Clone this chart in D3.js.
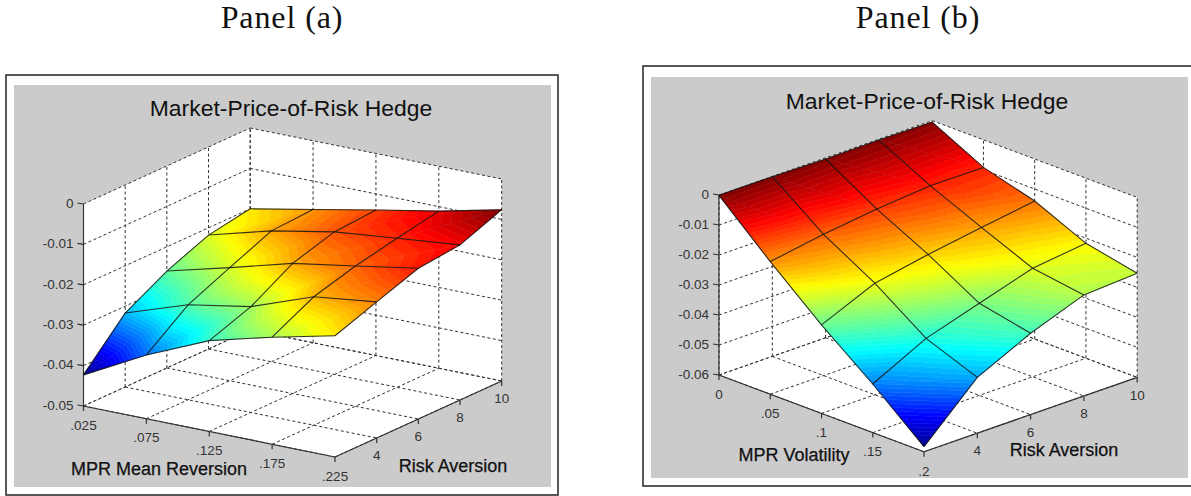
<!DOCTYPE html>
<html>
<head>
<meta charset="utf-8">
<script src="https://cdn.jsdelivr.net/npm/d3@7"></script>
<style>
  html, body { margin: 0; padding: 0; background: #fff; overflow: hidden; }
  svg { display: block; }
  text { font-family: "Liberation Sans", Arial, sans-serif; }
</style>
</head>
<body>
<div id="my_dataviz"></div>
<script>
(function() {

const width = 1191,
height = 496;

// values, rows = x tick, columns = risk aversion tick
const riskAversion = [2, 4, 6, 8, 10];
const riskLabels = ["", "4", "6", "8", "10"];

const meanReversion = [.025, .075, .125, .175, .225];
const meanReversionLabels = [".025", ".075", ".125", ".175", ".225"];
const zTicksA = [0, -0.01, -0.02, -0.03, -0.04, -0.05];
const zLabelsA = ["0", "-0.01", "-0.02", "-0.03", "-0.04", "-0.05"];
const hedgeA = [
  [-.0423, -.0317, -.0260, -.0218, -.0200],
  [-.0342, -.0265, -.0220, -.0176, -.0170],
  [-.0275, -.0238, -.0178, -.0147, -.0140],
  [-.0235, -.0182, -.0153, -.0131, -.0111],
  [-.0200, -.0163, -.0127, -.0116, -.0076]
];

const volatility = [0, .05, .1, .15, .2];
const volatilityLabels = ["0", ".05", ".1", ".15", ".2"];
const zTicksB = [0, -0.01, -0.02, -0.03, -0.04, -0.05, -0.06];
const zLabelsB = ["0", "-0.01", "-0.02", "-0.03", "-0.04", "-0.05", "-0.06"];
const hedgeB = [
  [-.0001, -.0001, -.0004, -.0003, -.0005],
  [-.0158, -.0129, -.0107, -.0091, -.0092],
  [-.0305, -.0228, -.0194, -.0166, -.0140],
  [-.0438, -.0348, -.0293, -.0238, -.0217],
  [-.0583, -.0414, -.0329, -.0263, -.0253]
];

const svg = d3.select("#my_dataviz")
  .append("svg")
  .attr("width", width)
  .attr("height", height)
  .attr("viewBox", [0, 0, width, height]);

// matlab jet
const jet = d3.scaleLinear()
  .domain([0, .125, .375, .625, .875, 1])
  .range(["#00008f", "#0000ff", "#00ffff", "#ffff00", "#ff0000", "#800000"])
  .clamp(true);
const levels = 64;

// keep the part of a polygon on one side of a level, v = {a, b, c}
function clipLevel(poly, level, keepAbove) {
  const out = [];
  const inside = v => keepAbove ? v.c >= level : v.c <= level;
  poly.forEach((v, k) => {
    const w = poly[(k + 1) % poly.length];
    if (inside(v)) out.push(v);
    if (inside(v) !== inside(w)) {
      const f = (level - v.c) / (w.c - v.c);
      out.push({ a: v.a + (w.a - v.a) * f, b: v.b + (w.b - v.b) * f, c: level });
    }
  });
  return out;
}

function drawPanel(cfg) {
  const g = svg.append("g");
  const xs = cfg.x, ys = riskAversion, zs = cfg.zTicks, z = cfg.z;

  // oblique box: screen position is a sum of three linear scales
  const xH = d3.scaleLinear().domain(d3.extent(xs)).range([0, cfg.xRun[0]]);
  const xV = d3.scaleLinear().domain(d3.extent(xs)).range([0, cfg.xRun[1]]);
  const yH = d3.scaleLinear().domain(d3.extent(ys)).range([0, cfg.yRun[0]]);
  const yV = d3.scaleLinear().domain(d3.extent(ys)).range([0, cfg.yRun[1]]);
  const zV = d3.scaleLinear().domain(d3.extent(zs)).range([0, -cfg.zRun]);
  const P = (a, b, c) => [
    cfg.origin[0] + xH(a) + yH(b),
    cfg.origin[1] + xV(a) + yV(b) + zV(c)
  ];

  const line = d3.line();
  const x0 = xs[0], x1 = xs[xs.length - 1];
  const y0 = ys[0], y1 = ys[ys.length - 1];
  const zMin = d3.min(zs), zMax = d3.max(zs);

  // figure frame and gray background
  g.append("rect")
    .attr("x", cfg.frame[0]).attr("y", cfg.frame[1])
    .attr("width", cfg.frame[2]).attr("height", cfg.frame[3])
    .attr("fill", "#fff").attr("stroke", "#222").attr("stroke-width", 1.5);
  g.append("rect")
    .attr("x", cfg.bg[0]).attr("y", cfg.bg[1])
    .attr("width", cfg.bg[2]).attr("height", cfg.bg[3])
    .attr("fill", "#cbcbcb");

  // walls and floor
  const planes = [
    [P(x0, y0, zMin), P(x0, y1, zMin), P(x0, y1, zMax), P(x0, y0, zMax)],
    [P(x0, y1, zMin), P(x1, y1, zMin), P(x1, y1, zMax), P(x0, y1, zMax)],
    [P(x0, y0, zMin), P(x1, y0, zMin), P(x1, y1, zMin), P(x0, y1, zMin)]
  ];
  g.append("g").selectAll("path")
    .data(planes)
    .join("path")
    .attr("d", d => line(d) + "Z")
    .attr("fill", "#fff");

  // dashed grid
  const grid = [];
  for (let a of xs) {
    grid.push([P(a, y0, zMin), P(a, y1, zMin)]);
    grid.push([P(a, y1, zMin), P(a, y1, zMax)]);
  }
  for (let b of ys) {
    grid.push([P(x0, b, zMin), P(x1, b, zMin)]);
    grid.push([P(x0, b, zMin), P(x0, b, zMax)]);
  }
  for (let c of zs) {
    grid.push([P(x0, y0, c), P(x0, y1, c)]);
    grid.push([P(x0, y1, c), P(x1, y1, c)]);
  }
  g.append("g").selectAll("path")
    .data(grid)
    .join("path")
    .attr("d", line)
    .attr("fill", "none")
    .attr("stroke", "#333")
    .attr("stroke-width", 1)
    .attr("stroke-dasharray", "3 2.5");

  // axis lines and ticks
  const axisLines = [
    [P(x0, y0, zMin), P(x0, y0, zMax)],
    [P(x0, y0, zMin), P(x1, y0, zMin)],
    [P(x1, y0, zMin), P(x1, y1, zMin)]
  ];
  for (let c of zs) {
    const p = P(x0, y0, c);
    axisLines.push([[p[0] - 6, p[1] - 1], p]);
  }
  xs.forEach(a => {
    const p = P(a, y0, zMin);
    axisLines.push([p, [p[0], p[1] + 5]]);
  });
  ys.slice(1).forEach(b => {
    const p = P(x1, b, zMin);
    axisLines.push([p, [p[0], p[1] + 5]]);
  });
  g.append("g").selectAll("path")
    .data(axisLines)
    .join("path")
    .attr("d", line)
    .attr("fill", "none")
    .attr("stroke", "#333")
    .attr("stroke-width", 1.2);

  // surface, two triangles per grid cell, each cut into flat colour bands
  const zRange = d3.extent(z.flat());
  const bandOf = d3.scaleLinear().domain(zRange).range([0, levels]);
  const pieces = [];
  const node = (i, j) => ({ a: xs[i], b: ys[j], c: z[i][j] });
  const addTriangle = tri => {
    const lo = Math.max(0, Math.floor(bandOf(d3.min(tri, v => v.c))));
    const hi = Math.min(levels - 1, Math.floor(bandOf(d3.max(tri, v => v.c))));
    for (let k = lo; k <= hi; k++) {
      let poly = clipLevel(tri, bandOf.invert(k), true);
      if (poly.length) poly = clipLevel(poly, bandOf.invert(k + 1), false);
      if (poly.length > 2) {
        pieces.push({ pts: poly.map(v => P(v.a, v.b, v.c)), t: (k + .5) / levels });
      }
    }
  };
  for (let j = ys.length - 2; j >= 0; j--) {
    for (let i = 0; i < xs.length - 1; i++) {
      addTriangle([node(i, j), node(i + 1, j), node(i + 1, j + 1)]);
      addTriangle([node(i, j), node(i + 1, j + 1), node(i, j + 1)]);
    }
  }
  g.append("g").selectAll("path")
    .data(pieces)
    .join("path")
    .attr("d", d => line(d.pts) + "Z")
    .attr("fill", d => jet(d.t))
    .attr("stroke", d => jet(d.t))
    .attr("stroke-width", .5);

  // mesh
  const mesh = [];
  xs.forEach((a, i) => mesh.push(ys.map((b, j) => P(a, b, z[i][j]))));
  ys.forEach((b, j) => mesh.push(xs.map((a, i) => P(a, b, z[i][j]))));
  g.append("g").selectAll("path")
    .data(mesh)
    .join("path")
    .attr("d", line)
    .attr("fill", "none")
    .attr("stroke", "#141414")
    .attr("stroke-opacity", .85)
    .attr("stroke-width", 1.1);

  // tick labels
  g.append("g").selectAll("text")
    .data(zs)
    .join("text")
    .attr("x", cfg.origin[0] - 10)
    .attr("y", d => P(x0, y0, d)[1] - 1)
    .attr("dy", ".35em")
    .attr("text-anchor", "end")
    .attr("font-size", 13.5)
    .attr("fill", "#333")
    .text((d, i) => cfg.zLabels[i]);
  g.append("g").selectAll("text")
    .data(xs)
    .join("text")
    .attr("x", d => P(d, y0, zMin)[0])
    .attr("y", d => P(d, y0, zMin)[1] + 19)
    .attr("dy", ".35em")
    .attr("text-anchor", "middle")
    .attr("font-size", 13.5)
    .attr("fill", "#333")
    .text((d, i) => cfg.xLabels[i]);
  g.append("g").selectAll("text")
    .data(ys)
    .join("text")
    .attr("x", d => P(x1, d, zMin)[0])
    .attr("y", d => P(x1, d, zMin)[1] + 17.5)
    .attr("dy", ".35em")
    .attr("text-anchor", "middle")
    .attr("font-size", 13.5)
    .attr("fill", "#333")
    .text((d, i) => riskLabels[i]);

  // titles
  g.append("text")
    .attr("x", cfg.title[0]).attr("y", cfg.title[1])
    .attr("text-anchor", "middle")
    .attr("font-size", 22.9)
    .attr("fill", "#111")
    .text("Market-Price-of-Risk Hedge");
  g.append("text")
    .attr("x", cfg.xTitle[0]).attr("y", cfg.xTitle[1])
    .attr("text-anchor", "middle")
    .attr("font-size", 18)
    .attr("fill", "#111")
    .attr("stroke", "#111").attr("stroke-width", .25)
    .text(cfg.xName);
  g.append("text")
    .attr("x", cfg.yTitle[0]).attr("y", cfg.yTitle[1])
    .attr("text-anchor", "middle")
    .attr("font-size", 18)
    .attr("fill", "#111")
    .attr("stroke", "#111").attr("stroke-width", .25)
    .text("Risk Aversion");
  svg.append("text")
    .attr("x", cfg.panel[0]).attr("y", cfg.panel[1])
    .attr("text-anchor", "middle")
    .style("font-family", "'Liberation Serif', serif")
    .attr("font-size", 32)
    .attr("letter-spacing", .9)
    .attr("fill", "#111")
    .text(cfg.panelName);
}

drawPanel({
  x: meanReversion, xLabels: meanReversionLabels, zTicks: zTicksA, zLabels: zLabelsA, z: hedgeA,
  origin: [83.5, 406], xRun: [251.5, 51], yRun: [166.7, -76], zRun: 202,
  frame: [6, 75, 552, 420], bg: [14, 85, 537, 402],
  title: [291, 116], xTitle: [159, 475], yTitle: [453, 471.5],
  xName: "MPR Mean Reversion", panel: [282, 28], panelName: "Panel (a)"
});

drawPanel({
  x: volatility, xLabels: volatilityLabels, zTicks: zTicksB, zLabels: zLabelsB, z: hedgeB,
  origin: [719, 375], xRun: [205, 76.8], yRun: [213.2, -74.4], zRun: 180,
  frame: [643, 66, 560, 420], bg: [651, 77, 537, 401],
  title: [927, 109], xTitle: [794, 460.5], yTitle: [1064, 456],
  xName: "MPR Volatility", panel: [918, 28], panelName: "Panel (b)"
});

})();
</script>
</body>
</html>
